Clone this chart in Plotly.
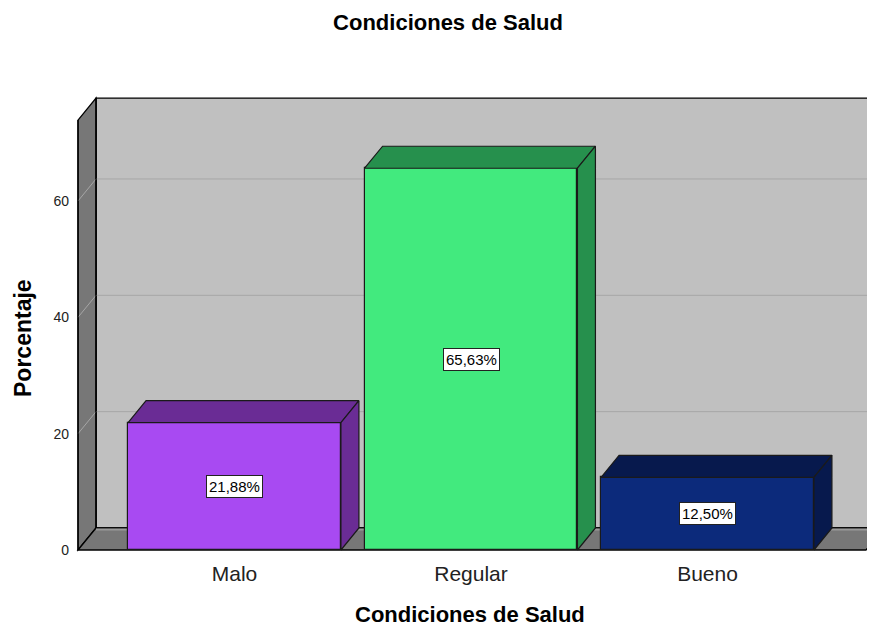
import plotly.graph_objects as go

# ---- data ----
categories = ["Malo", "Regular", "Bueno"]
percentages = [21.88, 65.63, 12.50]
y_ticks = [0, 20, 40, 60]
front_colors = ["#A84AF2", "#42EA7E", "#0C2A7B"]
depth_colors = ["#6A2C95", "#26904D", "#07194D"]
title_text = "Condiciones de Salud"
x_title = "Condiciones de Salud"
y_title = "Porcentaje"

# ---- geometry (pixels of the 875x627 window; page has an 8px body margin) ----
OFF = 8
W, H = 875 - OFF, 627 - OFF
def P(p):
    return p - OFF

L, R, T, B = P(76), P(875), P(96), P(552)     # plot area in figure pixels
X0PX, XSTEP = P(234.5), 236.5                  # category centre 0 and spacing
Y0PX, YSCALE = P(550.0), 5.817                 # value 0 pixel and px per unit
DEPTH_PX_X, DEPTH_PX_Y = 18, 22

def px2x(p):
    return (p - X0PX) / XSTEP

def px2y(p):
    return (Y0PX - p) / YSCALE

DX = DEPTH_PX_X / XSTEP
DY = DEPTH_PX_Y / YSCALE
BAR_W = 0.9
WALL_TOP = 73.9
XL = px2x(P(78))
XR = px2x(P(866))
XMAX = px2x(R) + 0.2

shapes = []
def poly(pts, fill, line="black", lw=1, layer="below"):
    d = "M " + " L ".join(f"{x},{y}" for x, y in pts) + " Z"
    shapes.append(dict(type="path", path=d, xref="x", yref="y",
                       fillcolor=fill, line=dict(color=line, width=lw), layer=layer))

def seg(pts, color, lw=1, layer="below"):
    d = "M " + " L ".join(f"{x},{y}" for x, y in pts)
    shapes.append(dict(type="path", path=d, xref="x", yref="y",
                       line=dict(color=color, width=lw), layer=layer))

# back wall
poly([(XL + DX, DY), (XL + DX, WALL_TOP + DY), (XMAX, WALL_TOP + DY), (XMAX, DY)], "#C0C0C0", lw=1.3)
# left wall
poly([(XL, 0), (XL, WALL_TOP), (XL + DX, WALL_TOP + DY), (XL + DX, DY)], "#777777", lw=1.3)
# floor
poly([(XL, 0), (XL + DX, DY), (XR + DX, DY), (XR, 0)], "#777777", lw=1.3)
# lighter strip along the back edge of the floor
seg([(XL + DX, DY - 0.25), (XR + DX, DY - 0.25)], "#9A9A9A", lw=2)
# gridlines
for t in y_ticks[1:]:
    seg([(XL, t), (XL + DX, t + DY), (XMAX, t + DY)], "#A6A6A6", lw=1)
# re-stroke wall edges
seg([(XL + DX, DY), (XL + DX, WALL_TOP + DY)], "black", lw=1.3)
seg([(XL, 0), (XL, WALL_TOP)], "black", lw=1.3)

fig = go.Figure()

FONT = "Liberation Sans, Arial"
annotations = []
for i, (cat, v) in enumerate(zip(categories, percentages)):
    x0, x1 = i - BAR_W / 2, i + BAR_W / 2
    # top face
    fig.add_trace(go.Scatter(
        x=[x0, x0 + DX, x1 + DX, x1, x0], y=[v, v + DY, v + DY, v, v],
        fill="toself", fillcolor=depth_colors[i], mode="lines",
        line=dict(color="#1a1a1a", width=1.2), hoverinfo="skip", showlegend=False))
    # side face
    fig.add_trace(go.Scatter(
        x=[x1, x1, x1 + DX, x1 + DX, x1], y=[0, v, v + DY, DY, 0],
        fill="toself", fillcolor=depth_colors[i], mode="lines",
        line=dict(color="#1a1a1a", width=1.2), hoverinfo="skip", showlegend=False))
    annotations.append(dict(
        x=i, y=v / 2, xref="x", yref="y",
        text=f"{v:.2f}".replace(".", ",") + "%", showarrow=False,
        font=dict(family=FONT, size=15, color="black"),
        bgcolor="white", bordercolor="#222222", borderwidth=1, borderpad=2))

fig.add_trace(go.Bar(
    x=list(range(len(categories))), y=percentages, width=BAR_W,
    marker=dict(color=front_colors, line=dict(color="#1a1a1a", width=1.2)),
    hoverinfo="skip", showlegend=False))

def paper_x(p):
    return (P(p) - L) / (R - L)

def paper_y(p):
    return (B - P(p)) / (B - T)

annotations.append(dict(
    x=paper_x(470), y=paper_y(614), xref="paper", yref="paper",
    text=f"<b>{x_title}</b>", showarrow=False, xanchor="center", yanchor="middle",
    font=dict(family=FONT, size=22, color="black")))
annotations.append(dict(
    x=paper_x(23), y=paper_y(338), xref="paper", yref="paper",
    text=f"<b>{y_title}</b>", showarrow=False, xanchor="center", yanchor="middle",
    textangle=-90,
    font=dict(family=FONT, size=23, color="black")))

fig.update_layout(
    width=W, height=H,
    margin=dict(l=L, r=W - R, t=T, b=H - B, pad=0),
    paper_bgcolor="white", plot_bgcolor="white",
    title=dict(text=f"<b>{title_text}</b>", x=P(448) / W, xref="container", xanchor="center",
               y=1 - P(22) / H, yref="container", yanchor="middle",
               font=dict(family=FONT, size=22, color="black")),
    xaxis=dict(range=[px2x(L), px2x(R)], tickvals=list(range(len(categories))),
               ticktext=categories, showgrid=False, zeroline=False, showline=False,
               ticks="", ticklabelstandoff=7,
               tickfont=dict(family=FONT, size=21, color="#222222")),
    yaxis=dict(range=[px2y(B), px2y(T)], tickvals=y_ticks, showgrid=False,
               zeroline=False, showline=False, ticks="", ticklabelstandoff=6,
               tickfont=dict(family=FONT, size=14, color="#222222")),
    shapes=shapes, annotations=annotations, bargap=0,
)

fig.write_html("out.html")
